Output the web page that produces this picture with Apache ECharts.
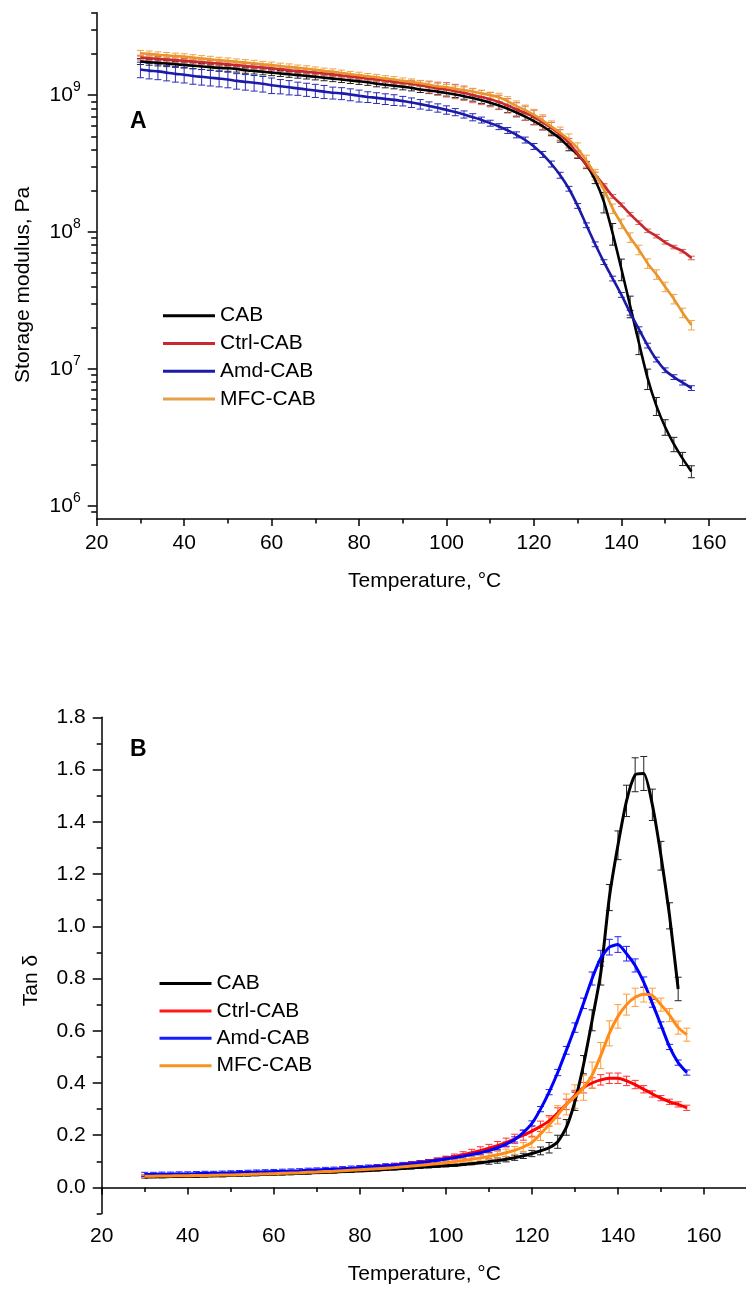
<!DOCTYPE html>
<html><head><meta charset="utf-8">
<script src="https://cdn.jsdelivr.net/npm/echarts@6/dist/echarts.min.js"></script>
<style>html,body{margin:0;padding:0;background:#fff}#c{width:746px;height:1291px}</style>
</head><body><div id="c"></div>
<script>
// ---------- data ----------
const temps = [30,32,34,36,38,40,42,44,46,48, 50,52,54,56,58,60,62,64,66,68,
  70,72,74,76,78,80,82,84,86,88, 90,92,94,96,98,100,102,104,106,108,
  110,112,114,116,118,120,122,124,126,128, 130,132,134,136,138,140,142,144,146,148,
  150,152,154,156];
const seriesNames = ['CAB','Ctrl-CAB','Amd-CAB','MFC-CAB'];

// Panel A: storage modulus (Pa)
const topCAB = [1.76e9,1.74e9,1.72e9,1.70e9,1.68e9,1.66e9,1.64e9,1.62e9,1.60e9,1.58e9,
  1.57e9,1.55e9,1.52e9,1.50e9,1.48e9,1.46e9,1.44e9,1.42e9,1.40e9,1.38e9,
  1.36e9,1.34e9,1.32e9,1.30e9,1.28e9,1.26e9,1.24e9,1.21e9,1.19e9,1.17e9,
  1.15e9,1.13e9,1.10e9,1.08e9,1.06e9,1.035e9,1.01e9,9.82e8,9.51e8,9.16e8,
  8.79e8,8.39e8,7.94e8,7.46e8,6.97e8,6.46e8,5.92e8,5.37e8,4.82e8,4.17e8,
  3.67e8,3.09e8,2.40e8,1.66e8,9.77e7,5.37e7,2.88e7,1.55e7,8.51e6,5.37e6,
  3.76e6,2.82e6,2.21e6,1.78e6];
const topCtrl = [1.88e9,1.86e9,1.84e9,1.82e9,1.80e9,1.78e9,1.76e9,1.74e9,1.72e9,1.70e9,
  1.68e9,1.66e9,1.63e9,1.61e9,1.59e9,1.57e9,1.55e9,1.52e9,1.50e9,1.48e9,
  1.46e9,1.44e9,1.42e9,1.39e9,1.37e9,1.35e9,1.32e9,1.30e9,1.28e9,1.25e9,
  1.23e9,1.21e9,1.18e9,1.15e9,1.12e9,1.10e9,1.07e9,1.04e9,1.00e9,9.68e8,
  9.33e8,8.91e8,8.41e8,7.85e8,7.41e8,6.92e8,6.31e8,5.75e8,5.13e8,4.47e8,
  3.72e8,3.09e8,2.63e8,2.19e8,1.82e8,1.58e8,1.35e8,1.17e8,1.02e8,9.33e7,
  8.41e7,7.76e7,7.24e7,6.46e7];
const topAmd = [1.54e9,1.51e9,1.49e9,1.46e9,1.43e9,1.41e9,1.38e9,1.36e9,1.34e9,1.32e9,
  1.30e9,1.27e9,1.25e9,1.23e9,1.21e9,1.18e9,1.16e9,1.14e9,1.12e9,1.10e9,
  1.08e9,1.06e9,1.04e9,1.03e9,1.01e9,9.89e8,9.70e8,9.55e8,9.38e8,9.23e8,
  9.06e8,8.83e8,8.59e8,8.34e8,8.07e8,7.80e8,7.52e8,7.23e8,6.90e8,6.58e8,
  6.24e8,5.89e8,5.52e8,5.13e8,4.70e8,4.22e8,3.69e8,3.14e8,2.60e8,2.07e8,
  1.55e8,1.12e8,8.13e7,6.03e7,4.57e7,3.47e7,2.57e7,1.95e7,1.48e7,1.17e7,
  9.77e6,8.71e6,7.94e6,7.24e6];
const topMFC = [2.02e9,2.00e9,1.97e9,1.95e9,1.93e9,1.91e9,1.88e9,1.85e9,1.83e9,1.80e9,
  1.78e9,1.75e9,1.73e9,1.71e9,1.68e9,1.66e9,1.63e9,1.61e9,1.58e9,1.56e9,
  1.53e9,1.50e9,1.48e9,1.45e9,1.42e9,1.40e9,1.37e9,1.35e9,1.32e9,1.30e9,
  1.27e9,1.25e9,1.22e9,1.19e9,1.16e9,1.14e9,1.11e9,1.09e9,1.06e9,1.03e9,
  1.00e9,9.64e8,9.02e8,8.32e8,7.76e8,7.16e8,6.53e8,5.89e8,5.31e8,4.73e8,
  4.07e8,3.31e8,2.63e8,2.04e8,1.48e8,1.15e8,9.12e7,7.41e7,5.89e7,4.90e7,
  3.98e7,3.24e7,2.57e7,2.09e7];
// relative error (fraction of value)
const errTopCAB = [.05,.05,.05,.05,.05,.05,.05,.05,.05,.05, .05,.05,.05,.05,.05,.05,.05,.05,.05,.05,
  .05,.05,.05,.05,.05,.05,.05,.05,.05,.05, .05,.05,.05,.05,.05,.05,.05,.05,.05,.05,
  .05,.06,.06,.06,.06,.06,.06,.06,.06,.06, .06,.06,.06,.17,.18,.18,.18,.18,.17,.15,
  .13,.12,.11,.10];
const errTopCtrl = [.04,.04,.04,.04,.04,.04,.04,.04,.04,.04, .04,.04,.04,.04,.04,.04,.04,.04,.04,.04,
  .04,.04,.04,.04,.04,.04,.04,.04,.04,.04, .04,.06,.08,.10,.11,.12,.12,.12,.12,.12,
  .12,.12,.12,.12,.12,.12,.11,.10,.09,.08, .06,.05,.04,.03,.03,.03,.03,.03,.03,.03,
  .03,.03,.03,.03];
const errTopAmd = [.13,.13,.13,.13,.13,.13,.13,.13,.13,.13, .13,.13,.13,.13,.13,.13,.12,.12,.11,.11,
  .11,.11,.10,.10,.10,.10,.09,.09,.09,.09, .08,.08,.08,.07,.07,.07,.06,.06,.06,.05,
  .05,.05,.05,.05,.05,.05,.05,.05,.05,.04, .04,.04,.04,.04,.04,.04,.04,.04,.04,.04,
  .04,.04,.04,.04];
const errTopMFC = [.05,.05,.05,.05,.05,.05,.05,.05,.05,.05, .05,.05,.05,.05,.05,.05,.05,.05,.05,.05,
  .05,.05,.05,.05,.05,.05,.05,.05,.05,.05, .05,.05,.05,.05,.05,.05,.05,.05,.05,.05,
  .05,.07,.08,.09,.09,.10,.10,.10,.10,.10, .10,.10,.09,.08,.08,.08,.08,.08,.08,.08,
  .08,.08,.08,.08];

// Panel B: tan delta
const botCAB = [.040,.041,.041,.042,.042,.043,.043,.044,.045,.045,
  .046,.047,.048,.049,.050,.051,.052,.053,.054,.055,
  .057,.058,.059,.061,.062,.064,.065,.067,.069,.071,
  .073,.075,.077,.079,.081,.083,.085,.088,.091,.095,
  .099,.103,.108,.114,.121,.130,.140,.152,.175,.230,
  .330,.470,.640,.820,1.110,1.310,1.480,1.580,1.585,1.465,
  1.270,1.040,0.760];
const botCtrl = [.045,.045,.046,.046,.047,.047,.048,.048,.049,.050,
  .051,.052,.053,.054,.055,.056,.057,.059,.060,.062,
  .064,.066,.068,.070,.072,.075,.077,.080,.083,.086,
  .089,.093,.097,.101,.106,.112,.118,.125,.133,.141,
  .150,.160,.172,.186,.200,.216,.234,.255,.285,.318,
  .352,.382,.400,.412,.418,.418,.408,.394,.376,.358,
  .342,.328,.318,.305];
const botAmd = [.050,.050,.051,.051,.052,.052,.053,.054,.054,.055,
  .056,.057,.058,.059,.060,.061,.062,.063,.064,.066,
  .067,.069,.070,.072,.074,.076,.078,.080,.083,.085,
  .088,.091,.095,.099,.104,.109,.114,.120,.126,.133,
  .141,.152,.166,.184,.210,.245,.300,.365,.440,.525,
  .612,.705,.800,.878,.920,.930,.895,.850,.786,.705,
  .622,.538,.478,.440];
const botMFC = [.043,.043,.044,.044,.045,.045,.046,.046,.047,.048,
  .048,.049,.050,.051,.052,.053,.054,.055,.056,.058,
  .059,.061,.062,.064,.066,.068,.070,.072,.074,.076,
  .079,.082,.085,.088,.091,.095,.099,.103,.108,.113,
  .119,.125,.133,.142,.155,.172,.205,.240,.278,.318,
  .348,.382,.430,.505,.590,.655,.700,.728,.740,.735,
  .700,.660,.612,.585];
// absolute error
const errBotCAB = [.004,.004,.004,.004,.004,.004,.004,.004,.004,.004, .004,.004,.004,.004,.004,.004,.004,.004,.004,.004,
  .004,.004,.004,.004,.004,.004,.004,.004,.004,.004, .004,.004,.004,.004,.004,.004,.004,.004,.004,.004,
  .010,.010,.010,.010,.010,.012,.015,.020,.025,.030, .035,.035,.040,.045,.050,.055,.060,.065,.065,.060,
  .055,.050,.045];
const errBotCtrl = [.005,.005,.005,.005,.005,.005,.005,.005,.005,.005, .005,.005,.005,.005,.005,.005,.005,.005,.005,.005,
  .005,.005,.005,.005,.005,.005,.005,.005,.005,.005, .005,.005,.006,.006,.007,.008,.010,.012,.013,.015,
  .015,.016,.017,.018,.019,.020,.020,.020,.020,.020, .020,.020,.020,.020,.020,.020,.018,.016,.014,.012,
  .010,.010,.010,.010];
const errBotAmd = [.008,.008,.008,.008,.008,.008,.008,.008,.008,.008, .008,.008,.008,.008,.008,.008,.008,.008,.008,.008,
  .008,.008,.008,.008,.008,.008,.008,.008,.008,.008, .008,.008,.008,.008,.008,.008,.008,.008,.008,.008,
  .008,.008,.008,.010,.010,.010,.010,.010,.012,.015, .018,.020,.025,.030,.030,.030,.028,.025,.020,.015,
  .012,.010,.010,.010];
const errBotMFC = [.005,.005,.005,.005,.005,.005,.005,.005,.005,.005, .005,.005,.005,.005,.005,.005,.005,.005,.005,.005,
  .005,.005,.005,.005,.005,.005,.005,.005,.005,.005, .005,.006,.006,.007,.007,.008,.008,.009,.010,.011,
  .012,.013,.014,.015,.017,.020,.025,.030,.035,.040, .045,.048,.050,.050,.048,.045,.040,.035,.030,.028,
  .025,.025,.025,.025];

// tick values
const xMajorTicks = [20,40,60,80,100,120,140,160];
const xMinorTicks = [30,50,70,90,110,130,150];
const logMajorTicks = [1e6,1e7,1e8,1e9];
const logMinorTicks = [9e5,2e6,3e6,4e6,5e6,6e6,7e6,8e6,9e6,2e7,3e7,4e7,5e7,6e7,7e7,8e7,9e7,
  2e8,3e8,4e8,5e8,6e8,7e8,8e8,9e8,2e9,3e9,4e9];
const tanMajorTicks = [0,0.2,0.4,0.6,0.8,1.0,1.2,1.4,1.6,1.8];
const tanMinorTicks = [-0.1,0.1,0.3,0.5,0.7,0.9,1.1,1.3,1.5,1.7];

// ---------- styling ----------
const FF = '"Liberation Sans", Arial, Helvetica, sans-serif';
const topLine = ['#000000','#c8282e','#1b1ba8','#e8952e'];
const topErr  = ['#222222','#d8645c','#2b2bb8','#f2a446'];
const topLeg  = ['#000000','#c8282e','#1b1ba8','#e6a04a'];
const botLine = ['#000000','#ff0000','#0000ff','#ff8c1a'];
const botErr  = ['#222222','#ff3535','#2525ff','#ff9c38'];
const botLeg  = ['#000000','#ff1a1a','#1a1aff','#f7931e'];

const axLine = {show:true, lineStyle:{color:'#000', width:1.5}};
const tickStyle = {color:'#000', width:1.5};

function xAxes(grid) {
  const nameGap = grid === 0 ? 52 : 50;
  const margin = grid === 0 ? 14 : 12.5;
  return [
    {gridIndex:grid, type:'value', min:20, max:170, position:'bottom',
     axisLine:axLine,
     axisTick:{show:true, customValues:xMajorTicks, length:7, lineStyle:tickStyle},
     axisLabel:{customValues:xMajorTicks, fontSize:21, color:'#000', margin:margin, fontFamily:FF},
     splitLine:{show:false},
     name:'Temperature, °C', nameLocation:'middle', nameGap:nameGap,
     nameTextStyle:{fontSize:21, color:'#000', fontFamily:FF}},
    {gridIndex:grid, type:'value', min:20, max:170, position:'bottom',
     axisLine:{show:false},
     axisTick:{show:true, customValues:xMinorTicks, length:4.5, lineStyle:tickStyle},
     axisLabel:{show:false}, splitLine:{show:false}}
  ];
}

function errSeries(xi, yi, data, color) {
  return {
    type:'custom', name:'err', xAxisIndex:xi, yAxisIndex:yi, data:data, silent:true,
    encode:{x:0, y:[1,2]},
    renderItem:function(params, api){
      const x = api.value(0), lo = api.value(1), hi = api.value(2);
      const a = api.coord([x, hi]), b = api.coord([x, lo]);
      const st = {stroke:color, lineWidth:1};
      const w = 3.5;
      return {type:'group', children:[
        {type:'line', shape:{x1:a[0], y1:a[1], x2:b[0], y2:b[1]}, style:st},
        {type:'line', shape:{x1:a[0]-w, y1:a[1], x2:a[0]+w, y2:a[1]}, style:st},
        {type:'line', shape:{x1:b[0]-w, y1:b[1], x2:b[0]+w, y2:b[1]}, style:st}
      ]};
    }
  };
}
function lineSeries(name, xi, yi, data, color, width) {
  return {type:'line', name:name, xAxisIndex:xi, yAxisIndex:yi, data:data,
    showSymbol:false, symbol:'none', smooth:0.2, silent:true,
    lineStyle:{color:color, width:width}, itemStyle:{color:color}};
}

const topVals = [topCAB, topCtrl, topAmd, topMFC];
const topErrs = [errTopCAB, errTopCtrl, errTopAmd, errTopMFC];
const botVals = [botCAB, botCtrl, botAmd, botMFC];
const botErrs = [errBotCAB, errBotCtrl, errBotAmd, errBotMFC];

const series = [];
topVals.forEach((vals, k) => {
  const pts = vals.map((v, i) => [temps[i], v]);
  const eb = vals.map((v, i) => [temps[i], v * (1 - topErrs[k][i]), v * (1 + topErrs[k][i])]);
  series.push(errSeries(0, 0, eb, topErr[k]));
  series.push(lineSeries(seriesNames[k], 0, 0, pts, topLine[k], 2.6));
});
botVals.forEach((vals, k) => {
  const pts = vals.map((v, i) => [temps[i], v]);
  const eb = vals.map((v, i) => [temps[i], v - botErrs[k][i], v + botErrs[k][i]]);
  series.push(errSeries(2, 2, eb, botErr[k]));
  series.push(lineSeries(seriesNames[k], 2, 2, pts, botLine[k], 3));
});

function legendCfg(left, top, colors, gap) {
  return {left:left, top:top, orient:'vertical', padding:0, itemGap:gap,
    itemWidth:52, itemHeight:3, icon:'rect', selectedMode:false,
    textStyle:{fontSize:21, lineHeight:21, color:'#000', fontFamily:FF, padding:[0,0,0,0]},
    data: seriesNames.map((n, k) => ({name:n, itemStyle:{color:colors[k]}}))};
}

const option = {
  animation:false,
  backgroundColor:'#fff',
  textStyle:{fontFamily:FF, color:'#000'},
  grid:[
    {left:96.7, top:12.7, right:-6.6, height:506.3, outerBoundsMode:'none', containLabel:false},
    {left:101.7, top:717.3, right:-1, height:496.3, outerBoundsMode:'none', containLabel:false}
  ],
  xAxis: xAxes(0).concat(xAxes(1)),
  yAxis:[
    {gridIndex:0, type:'log', logBase:10, min:8e5, max:4e9, position:'left',
     axisLine:axLine,
     axisTick:{show:true, customValues:logMajorTicks, length:9, lineStyle:tickStyle},
     axisLabel:{customValues:logMajorTicks, margin:16, color:'#000',
       formatter:function(v){ return '{a|10}{b|' + Math.round(Math.log10(v)) + '}'; },
       rich:{a:{fontSize:21, lineHeight:30, fontFamily:FF, color:'#000'},
             b:{fontSize:14, lineHeight:14, verticalAlign:'top', fontFamily:FF, color:'#000'}}},
     splitLine:{show:false},
     name:'Storage modulus, Pa', nameLocation:'middle', nameGap:63,
     nameTextStyle:{fontSize:21, color:'#000', fontFamily:FF, padding:[0,38,0,0]}},
    {gridIndex:0, type:'log', logBase:10, min:8e5, max:4e9, position:'left',
     axisLine:{show:false},
     axisTick:{show:true, customValues:logMinorTicks, length:5.5, lineStyle:tickStyle},
     axisLabel:{show:false}, splitLine:{show:false}},
    {gridIndex:1, type:'value', min:-0.1, max:1.8, position:'left',
     axisLine:axLine,
     axisTick:{show:true, customValues:tanMajorTicks, length:9, lineStyle:tickStyle},
     axisLabel:{customValues:tanMajorTicks, margin:16, fontSize:21, color:'#000', fontFamily:FF,
       formatter:function(v){ return v.toFixed(1); }},
     splitLine:{show:false},
     name:'Tan δ', nameLocation:'middle', nameGap:60,
     nameTextStyle:{fontSize:21, color:'#000', fontFamily:FF, padding:[0,30,0,0]}},
    {gridIndex:1, type:'value', min:-0.1, max:1.8, position:'left',
     axisLine:{show:false},
     axisTick:{show:true, customValues:tanMinorTicks, length:5, lineStyle:tickStyle},
     axisLabel:{show:false}, splitLine:{show:false}}
  ],
  legend:[
    legendCfg(163, 305.2, topLeg, 6.8),
    legendCfg(159.5, 973, botLeg, 6.4)
  ],
  graphic:[
    {type:'text', x:130, y:121.5, silent:true,
     style:{text:'A', fontSize:23, fontWeight:'bold', fontFamily:FF, fill:'#000', align:'left', verticalAlign:'middle'}},
    {type:'text', x:130, y:750, silent:true,
     style:{text:'B', fontSize:23, fontWeight:'bold', fontFamily:FF, fill:'#000', align:'left', verticalAlign:'middle'}}
  ],
  series: series
};

const chart = echarts.init(document.getElementById('c'), null, {renderer:'canvas'});
chart.setOption(option);
</script></body></html>
